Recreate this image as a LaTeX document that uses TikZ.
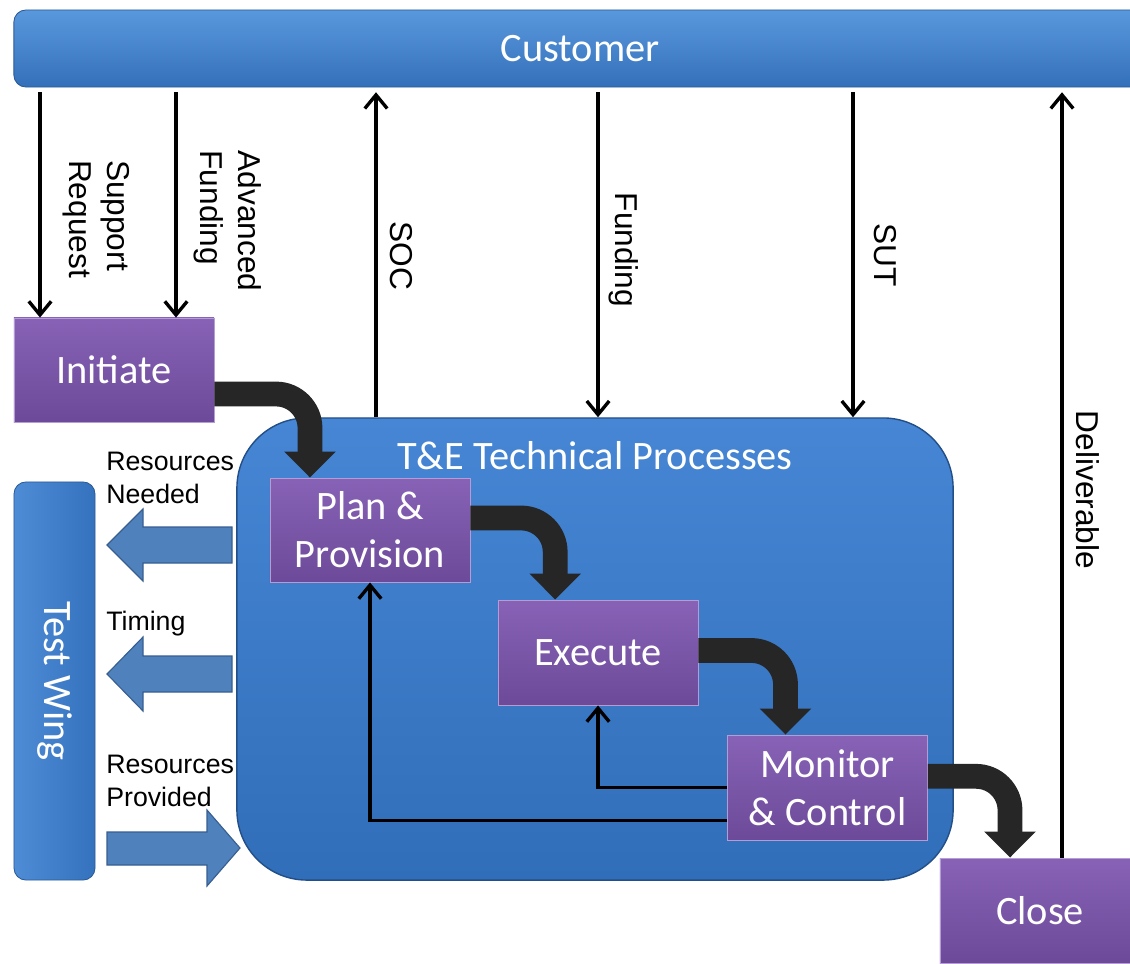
\documentclass[tikz,border=0pt]{standalone}
\usepackage{fontspec}
\setmainfont{Carlito}
\newfontfamily\tagfont{Liberation Sans}
\usepackage{xcolor}
\usetikzlibrary{arrows.meta}

\definecolor{bartop}{HTML}{5A98DD}
\definecolor{barbot}{HTML}{3370BA}
\definecolor{baredge}{HTML}{2A5A96}
\definecolor{wingleft}{HTML}{4E8CD6}
\definecolor{wingright}{HTML}{3572BE}
\definecolor{grouptop}{HTML}{4686D4}
\definecolor{groupbot}{HTML}{316EB9}
\definecolor{groupedge}{HTML}{234F88}
\definecolor{blocktop}{HTML}{8762B6}
\definecolor{blockbot}{HTML}{6D4A99}
\definecolor{blockedge}{HTML}{B49CD4}
\definecolor{flowdark}{HTML}{262626}
\definecolor{fatblue}{HTML}{4F81BD}
\definecolor{fatedge}{HTML}{375E8F}

\begin{document}
\begin{tikzpicture}[x=0.025cm, y=-0.025cm,
            block/.style={rectangle, draw=blockedge, line width=0.6pt, top color=blocktop, bottom color=blockbot, text=white, align=center, minimum width=5cm, minimum height=2.6cm, font=\fontsize{28.7}{34}\selectfont},
            bar/.style={rectangle, rounded corners=0.3cm, draw=baredge, line width=0.6pt, text=white, font=\fontsize{28.7}{34}\selectfont},
            groupbox/.style={rectangle, rounded corners=1.75cm, draw=groupedge, line width=1pt, top color=grouptop, bottom color=groupbot},
            arrow/.style={line width=2.4pt, -{Straight Barb[length=3.4mm, width=5.6mm]}},
            flow/.style={draw=flowdark, line width=0.62cm, rounded corners=0.85cm, -{Triangle[width=1.25cm, length=0.65cm]}},
            fat/.style={fill=fatblue, draw=fatedge, line width=0.8pt},
            tag/.style={text=black, align=left, inner sep=0pt, font=\tagfont\fontsize{19}{23}\selectfont},
            vtag/.style={tag, rotate=-90, font=\tagfont\fontsize{22.5}{27}\selectfont}
        ]
            \useasboundingbox (0,0) rectangle (1130,963);

            % Customer bar
            \node[bar, top color=bartop, bottom color=barbot, minimum width=28.3cm, minimum height=1.925cm] (cust) at (580,48.5) {Customer};
            % Technical processes group
            \node[groupbox, minimum width=17.9cm, minimum height=11.55cm] (tne) at (595,649) {};
            \node[text=white, font=\fontsize{28.7}{34}\selectfont] (tnetitle) at ([yshift=-0.95cm]tne.north) {T\&E Technical Processes};
            % Test wing bar
            \node[bar, left color=wingleft, right color=wingright, rotate=-90, minimum width=9.95cm, minimum height=2.025cm] (wing) at (54.5,681) {Test Wing};

            % Process blocks
            \node[block] (init) at (114,370) {Initiate};
            \node[block] (plan) at (370,530) {Plan \&\\Provision};
            \node[block, minimum height=2.625cm] (exec) at (598,652.5) {Execute};
            \node[block, minimum height=2.625cm] (mon) at (827.5,787.5) {Monitor\\\& Control};
            \node[block, minimum height=2.625cm] (close) at (1040,910.5) {Close};

            % Process flow
            \draw[flow] ([yshift=-0.6cm]init.east) -| ([xshift=-1.5cm]plan.north);
            \draw[flow] ([yshift=0.3cm]plan.east) -| ([xshift=-1.07cm]exec.north);
            \draw[flow] ([yshift=0.05cm]exec.east) -| ([xshift=-1.05cm]mon.north);
            \draw[flow] ([yshift=0.28cm]mon.east) -| ([xshift=-0.75cm]close.north);

            % Feedback loops
            \draw[arrow] (mon.west) -| (exec.south);
            \draw[arrow] ([yshift=-0.82cm]mon.west) -| (plan.south);

            % Customer exchanges
            \draw[arrow] ([yshift=-0.12cm]cust.south -| 40,0) -- (init.north -| 40,0);
            \draw[arrow] ([yshift=-0.12cm]cust.south -| 176,0) -- (init.north -| 176,0);
            \draw[arrow] (tne.north -| 376,0) -- ([yshift=-0.12cm]cust.south -| 376,0);
            \draw[arrow] ([yshift=-0.12cm]cust.south -| 598,0) -- (tne.north -| 598,0);
            \draw[arrow] ([yshift=-0.12cm]cust.south -| 853,0) -- (tne.north -| 853,0);
            \draw[arrow] (close.north -| 1062,0) -- ([yshift=-0.12cm]cust.south -| 1062,0);

            \node[vtag] (sreq) at (96,219) {Support\\Request};
            \node[vtag] (afund) at (228,221) {Advanced\\Funding};
            \node[vtag] (soc) at (401,256) {SOC};
            \node[vtag] (fund) at (624,250) {Funding};
            \node[vtag] (sut) at (885,255) {SUT};
            \node[vtag] (deliv) at (1088,490) {Deliverable};

            % Test wing exchanges
            \draw[fat] (107,545) -- (143,509) -- (143,527) -- (232,527) -- (232,563) -- (143,563) -- (143,581) -- cycle;
            \draw[fat] (107,674) -- (143,637) -- (143,656) -- (232,656) -- (232,692) -- (143,692) -- (143,711) -- cycle;
            \draw[fat] (240,848) -- (207,810) -- (207,832) -- (107,832) -- (107,865) -- (207,865) -- (207,886) -- cycle;

            \node[tag, anchor=west] (rneed) at (106,478) {Resources\\Needed};
            \node[tag, anchor=west] (timing) at (106,624) {Timing};
            \node[tag, anchor=west] (rprov) at (106,781) {Resources\\Provided};

        \end{tikzpicture}
\end{document}
